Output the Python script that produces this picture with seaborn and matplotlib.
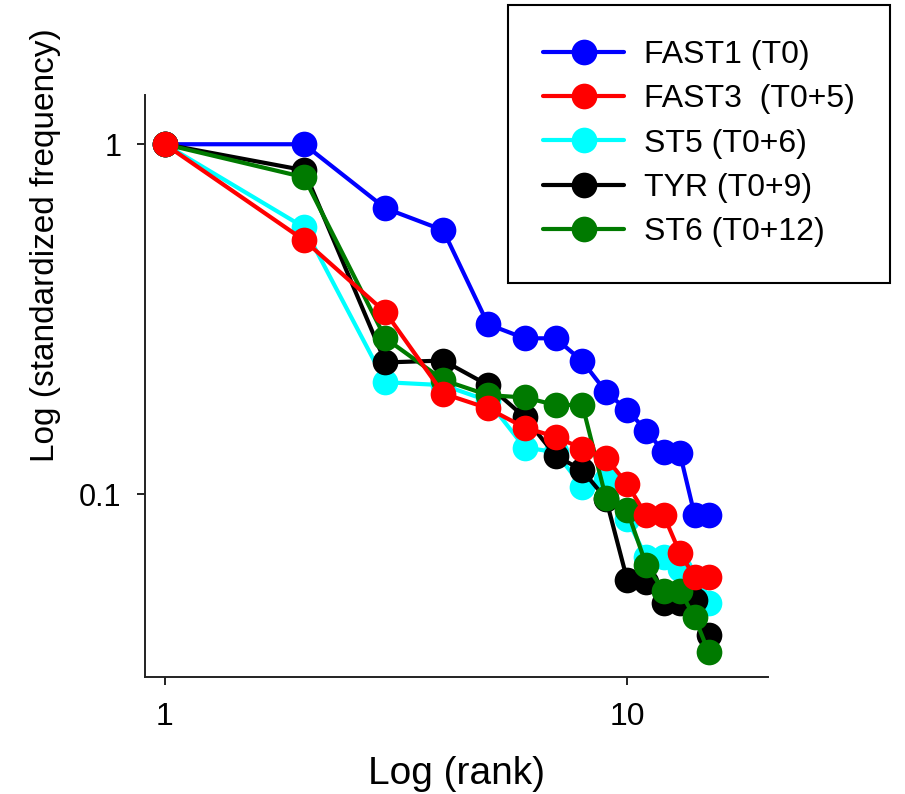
import matplotlib
matplotlib.use("Agg")
import matplotlib.pyplot as plt
import seaborn as sns
from matplotlib.ticker import FixedLocator, FixedFormatter, NullLocator

ranks = list(range(1, 16))
fast1 = [1.0, 1.0, 0.656, 0.568, 0.306, 0.279, 0.279, 0.240, 0.196, 0.174, 0.152, 0.132, 0.131, 0.087, 0.087]
fast3 = [1.0, 0.532, 0.331, 0.194, 0.176, 0.155, 0.146, 0.135, 0.127, 0.107, 0.087, 0.087, 0.068, 0.058, 0.058]
st5 = [1.0, 0.579, 0.209, 0.205, 0.185, 0.136, 0.132, 0.105, 0.110, 0.085, 0.066, 0.066, 0.061, 0.055, 0.049]
tyr = [1.0, 0.843, 0.238, 0.241, 0.205, 0.166, 0.129, 0.117, 0.097, 0.057, 0.056, 0.049, 0.049, 0.050, 0.0395]
st6 = [1.0, 0.805, 0.279, 0.212, 0.192, 0.189, 0.180, 0.180, 0.0974, 0.090, 0.0627, 0.053, 0.053, 0.0445, 0.0354]

series = [fast1, fast3, st5, tyr, st6]
labels = ["FAST1 (T0)", "FAST3  (T0+5)", "ST5 (T0+6)", "TYR (T0+9)", "ST6 (T0+12)"]
colors = ["#0000ff", "#ff0000", "#00ffff", "#000000", "#007a00"]
zorders = [3, 7, 4, 5, 6]

x_ticks = [1, 10]
x_tick_labels = ["1", "10"]
y_ticks = [0.1, 1]
y_tick_labels = ["0.1", "1"]

sns.set_style("ticks")
plt.rcParams['font.family'] = ['Liberation Sans', 'DejaVu Sans']
plt.rcParams['text.color'] = 'black'
plt.rcParams['axes.labelcolor'] = 'black'
plt.rcParams['xtick.color'] = '#222222'
plt.rcParams['ytick.color'] = '#222222'

fig = plt.figure(figsize=(9.05, 7.94), dpi=100)
ax = fig.add_axes([0.160, 0.147, 0.689, 0.733])

for vals, lab, col, z in zip(series, labels, colors, zorders):
    sns.lineplot(x=ranks, y=vals, ax=ax, color=col, marker='o', markersize=18.5,
                 linewidth=3.0, markeredgewidth=0, markeredgecolor=col,
                 label=lab, zorder=z)

ax.set_xscale('log')
ax.set_yscale('log')
ax.set_xlim(0.905, 20.2)
ax.set_ylim(0.030, 1.38)

ax.xaxis.set_major_locator(FixedLocator(x_ticks))
ax.xaxis.set_major_formatter(FixedFormatter(x_tick_labels))
ax.yaxis.set_major_locator(FixedLocator(y_ticks))
ax.yaxis.set_major_formatter(FixedFormatter(y_tick_labels))
ax.xaxis.set_minor_locator(NullLocator())
ax.yaxis.set_minor_locator(NullLocator())

for s in ['top', 'right']:
    ax.spines[s].set_visible(False)
for s in ['left', 'bottom']:
    ax.spines[s].set_linewidth(1.4)
    ax.spines[s].set_color('#222222')

ax.tick_params(axis='x', which='major', direction='out', length=6, width=1.4,
               labelsize=23, pad=12, labelcolor='black')
ax.tick_params(axis='y', which='major', direction='out', length=6, width=1.4,
               labelsize=22, pad=11, labelcolor='black')

ax.set_xlabel("Log (rank)", fontsize=28, labelpad=17)
ax.set_ylabel("Log (standardized frequency)", fontsize=24)
ax.yaxis.set_label_coords(-0.135, 0.742)

leg = ax.legend(loc='upper right', bbox_to_anchor=(0.983, 0.994),
                bbox_transform=fig.transFigure, frameon=True, fancybox=False,
                edgecolor='black', framealpha=1, fontsize=23, handlelength=2.55,
                borderpad=1.1, labelspacing=0.45, handletextpad=0.6,
                borderaxespad=0)
leg.get_frame().set_linewidth(1.5)

fig.savefig("out.png", dpi=100)
